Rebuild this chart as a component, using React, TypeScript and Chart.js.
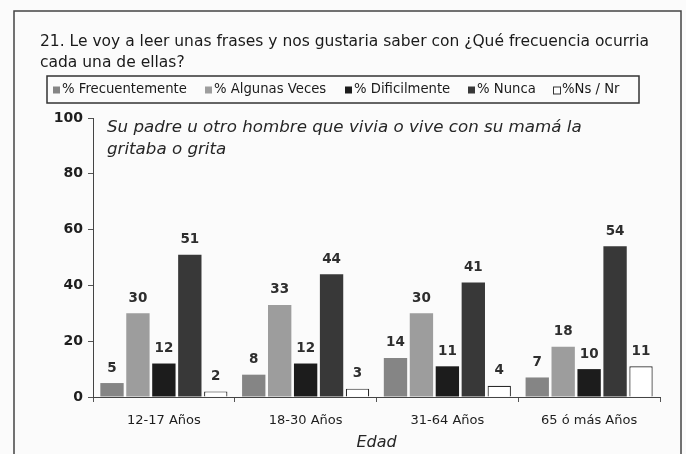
import React, { useEffect, useRef } from "react";
import { Chart, registerables } from "chart.js";

Chart.register(...registerables);

const categories = ["12-17 Años", "18-30 Años", "31-64 Años", "65 ó más Años"];
const seriesNames = ["% Frecuentemente", "% Algunas Veces", "% Dificilmente", "% Nunca", "%Ns / Nr"];
const frecuentemente = [5, 8, 14, 7];
const algunasVeces = [30, 33, 30, 18];
const dificilmente = [12, 12, 11, 10];
const nunca = [51, 44, 41, 54];
const nsNr = [2, 3, 4, 11];
const yTicks = [0, 20, 40, 60, 80, 100];

const titleLines = [
  "21. Le voy a leer unas frases y nos gustaria saber con ¿Qué frecuencia ocurria",
  "cada una de ellas?",
];
const subtitleLines = [
  "Su padre u otro hombre que vivia o vive con su mamá la",
  "gritaba o grita",
];
const axisTitle = "Edad";

const FONT = "'DejaVu Sans', sans-serif";
const colors = ["#858585", "#9d9d9d", "#1c1c1c", "#383838", "#ffffff"];
const legendX = [53, 205, 345, 468, 553];

function fitSize(ctx: CanvasRenderingContext2D, style: string, text: string, target: number) {
  ctx.font = `${style} 100px ${FONT}`;
  const w = ctx.measureText(text).width;
  return (100 * target) / w;
}

const decorPlugin = {
  id: "decor",
  beforeDraw(chart: any) {
    const ctx = chart.ctx;
    ctx.save();
    ctx.fillStyle = "#fbfbfb";
    ctx.fillRect(0, 0, chart.width, chart.height);
    // frame
    ctx.strokeStyle = "#444";
    ctx.lineWidth = 1.5;
    ctx.strokeRect(14, 11, 667, 460);
    // title
    const ts = fitSize(ctx, "normal", titleLines[0], 609);
    ctx.fillStyle = "#1a1a1a";
    ctx.font = `${ts}px ${FONT}`;
    ctx.textBaseline = "middle";
    ctx.textAlign = "left";
    ctx.fillText(titleLines[0], 40, 42);
    ctx.fillText(titleLines[1], 40, 63);
    // legend box
    ctx.strokeStyle = "#333";
    ctx.lineWidth = 1.5;
    ctx.strokeRect(47, 76, 592, 27);
    const ls = fitSize(ctx, "normal", seriesNames[0], 125);
    ctx.font = `${ls}px ${FONT}`;
    seriesNames.forEach((name, i) => {
      const x = legendX[i];
      ctx.fillStyle = colors[i];
      ctx.fillRect(x, 86.5, 7, 7);
      if (i === 4) {
        ctx.strokeStyle = "#333";
        ctx.lineWidth = 1;
        ctx.strokeRect(x + 0.5, 87, 7, 7);
      }
      ctx.fillStyle = "#1a1a1a";
      ctx.fillText(name, x + 9, 90);
    });
    ctx.restore();
  },
  afterDraw(chart: any) {
    const ctx = chart.ctx;
    const area = chart.chartArea;
    ctx.save();
    const ss = fitSize(ctx, "italic", subtitleLines[0], 475);
    ctx.fillStyle = "#262626";
    ctx.textBaseline = "middle";
    ctx.textAlign = "left";
    ctx.font = `italic ${ss}px ${FONT}`;
    ctx.fillText(subtitleLines[0], 107, 128);
    ctx.fillText(subtitleLines[1], 107, 150);
    ctx.textAlign = "center";
    ctx.font = `italic 16px ${FONT}`;
    ctx.fillText(axisTitle, (area.left + area.right) / 2, 443);
    ctx.restore();
  },
};

const labelPlugin = {
  id: "valueLabels",
  afterDatasetsDraw(chart: any) {
    const ctx = chart.ctx;
    ctx.save();
    ctx.fillStyle = "#2e2e2e";
    ctx.font = `bold 13.5px ${FONT}`;
    ctx.textAlign = "center";
    ctx.textBaseline = "middle";
    chart.data.datasets.forEach((ds: any, di: number) => {
      const meta = chart.getDatasetMeta(di);
      meta.data.forEach((el: any, i: number) => {
        ctx.fillText(String(ds.data[i]), el.x, el.y - 15);
      });
    });
    ctx.restore();
  },
};

export default function App() {
  const ref = useRef<HTMLCanvasElement>(null);
  useEffect(() => {
    document.body.style.margin = "0";
    const seriesData = [frecuentemente, algunasVeces, dificilmente, nunca, nsNr];
    const chart = new Chart(ref.current as HTMLCanvasElement, {
      type: "bar",
      data: {
        labels: categories,
        datasets: seriesData.map((d, i) => ({
          label: seriesNames[i],
          data: d,
          backgroundColor: colors[i],
          borderColor: "#2a2a2a",
          borderWidth: i === 4 ? 1.2 : 0,
          categoryPercentage: 0.915,
          barPercentage: 0.9,
        })),
      },
      options: {
        responsive: false,
        animation: false,
        layout: { padding: { left: 0, top: 118, right: 26, bottom: 0 } },
        plugins: {
          legend: { display: false },
          title: { display: false },
          tooltip: { enabled: false },
        },
        scales: {
          y: {
            min: 0,
            max: 100,
            afterBuildTicks: (scale: any) => {
              scale.ticks = yTicks.map((v) => ({ value: v }));
            },
            afterFit: (scale: any) => {
              scale.width = 93;
            },
            ticks: {
              color: "#1e1e1e",
              font: { family: FONT, size: 14, weight: "bold" },
              padding: 5,
            },
            grid: {
              drawOnChartArea: false,
              drawTicks: true,
              tickLength: 5,
              color: "#555",
            },
            border: { display: true, color: "#444", width: 1 },
          },
          x: {
            afterFit: (scale: any) => {
              scale.height = 57;
            },
            ticks: {
              color: "#1e1e1e",
              font: { family: FONT, size: 13 },
              padding: 11,
            },
            grid: {
              offset: true,
              drawOnChartArea: false,
              drawTicks: true,
              tickLength: 5,
              color: "#555",
            },
            border: { display: true, color: "#444", width: 1 },
          },
        },
      },
      plugins: [decorPlugin, labelPlugin],
    });
    return () => chart.destroy();
  }, []);
  return <canvas ref={ref} width={686} height={454} style={{ display: "block" }} />;
}
